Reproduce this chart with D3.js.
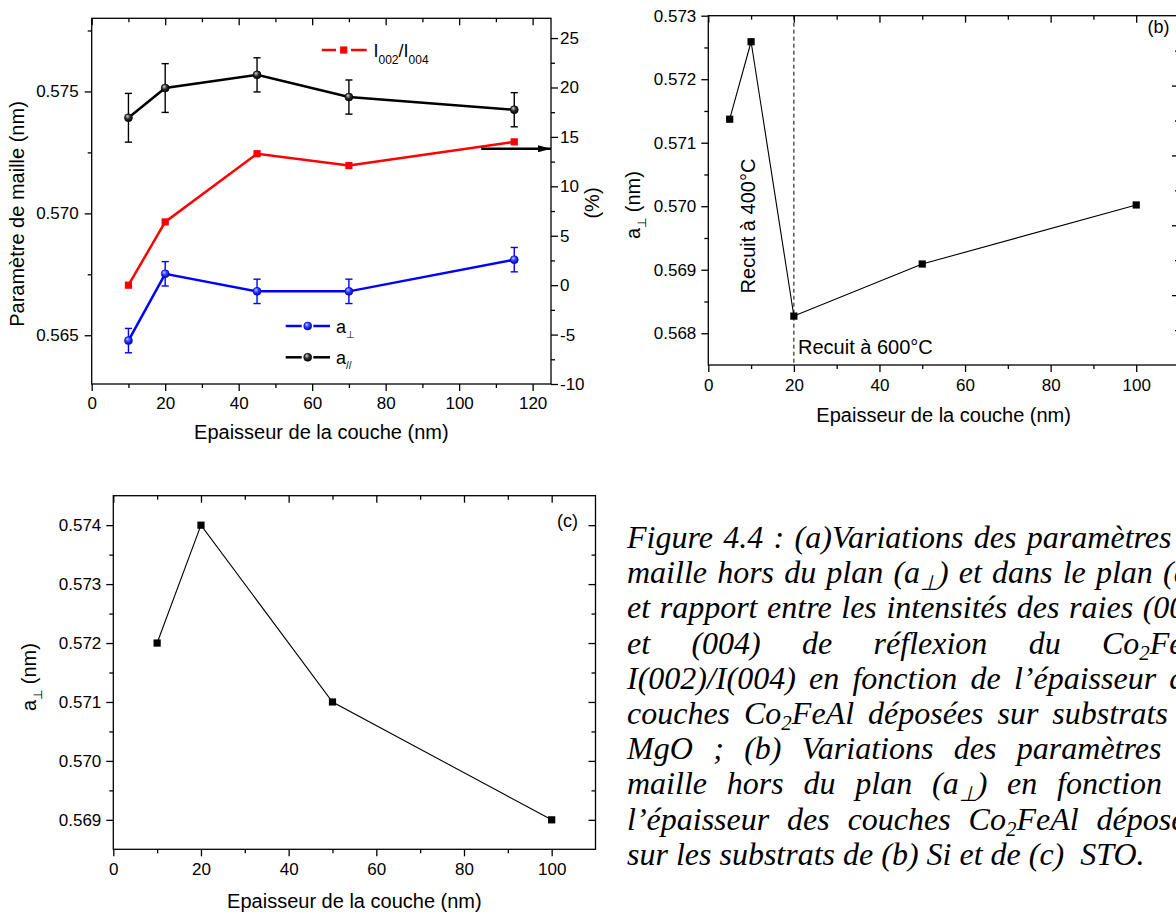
<!DOCTYPE html>
<html><head><meta charset="utf-8">
<script src="https://cdn.jsdelivr.net/npm/d3@7"></script>
<style>body{margin:0;background:#fff}svg{display:block}</style>
</head><body>
<svg id="c" width="1176" height="916"></svg>
<script>
// ---------- DATA ----------
const thicknessA = [10, 20, 45, 70, 115];
const aPerpA     = [0.56478, 0.56752, 0.5668, 0.5668, 0.5681];
const aPerpErrA  = [0.0005, 0.0005, 0.0005, 0.0005, 0.0005];
const aParA      = [0.57392, 0.57514, 0.57568, 0.57477, 0.57425];
const aParErrA   = [0.001, 0.001, 0.0007, 0.0007, 0.0007];
const ratioA     = [0, 6.4, 13.3, 12.1, 14.5];
const thicknessB = [5, 10, 20, 50, 100];
const aPerpB     = [0.57137, 0.57259, 0.56827, 0.56909, 0.57002];
const thicknessC = [10, 20, 50, 100];
const aPerpC     = [0.572, 0.574, 0.571, 0.569];

const xTicksA  = [0, 20, 40, 60, 80, 100, 120];
const xMinorA  = [10, 30, 50, 70, 90, 110];
const yTicksA  = [0.565, 0.570, 0.575];
const yMinorA  = [0.5675, 0.5725, 0.5775];
const yRTicksA = [-10, -5, 0, 5, 10, 15, 20, 25];
const yRMinorA = [-7.5, -2.5, 2.5, 7.5, 12.5, 17.5, 22.5];
const arrowA   = {x0: 106, x1: 125, y: 13.8};

const xTicksB  = [0, 20, 40, 60, 80, 100];
const xMinorB  = [10, 30, 50, 70, 90];
const yTicksB  = [0.568, 0.569, 0.570, 0.571, 0.572, 0.573];
const yMinorB  = [0.5685, 0.5695, 0.5705, 0.5715, 0.5725];
const rTicksB  = [1, 2, 3, 4];
const rMinorB  = [0.5, 1.5, 2.5, 3.5, 4.5];
const annealX  = 20;

const xTicksC  = [0, 20, 40, 60, 80, 100];
const xMinorC  = [10, 30, 50, 70, 90];
const yTicksC  = [0.569, 0.570, 0.571, 0.572, 0.573, 0.574];
const yMinorC  = [0.5695, 0.5705, 0.5715, 0.5725, 0.5735];

const captionLines = [
  "Figure 4.4 : (a)Variations des paramètres de",
  "maille hors du plan (a{⊥}) et dans le plan (a{//})",
  "et rapport entre les intensités des raies (002)",
  "et (004) de réflexion du Co{2}FeAl",
  "I(002)/I(004) en fonction de l’épaisseur des",
  "couches Co{2}FeAl déposées sur substrats de",
  "MgO ; (b) Variations des paramètres de",
  "maille hors du plan (a{⊥}) en fonction de",
  "l’épaisseur des couches Co{2}FeAl déposées",
  "sur les substrats de (b) Si et de (c)  STO."
];

// ---------- HELPERS ----------
const SANS = "Arial, 'Liberation Sans', sans-serif";
const SERIF = "'Times New Roman', 'Liberation Serif', serif";
const svg = d3.select("#c");
const defs = svg.append("defs");
function sphere(id, light, mid, dark) {
  const g = defs.append("radialGradient").attr("id", id)
    .attr("cx", "45%").attr("cy", "40%").attr("r", "60%").attr("fx", "35%").attr("fy", "30%");
  g.append("stop").attr("offset", "0%").attr("stop-color", light);
  g.append("stop").attr("offset", "50%").attr("stop-color", mid);
  g.append("stop").attr("offset", "100%").attr("stop-color", dark);
}
sphere("sphK", "#d8d8d8", "#303030", "#000");
sphere("sphB", "#c0c8ff", "#2a3cff", "#0000b8");
defs.append("marker").attr("id", "arrow").attr("viewBox", "0 0 10 10")
  .attr("refX", 10).attr("refY", 5).attr("markerWidth", 13).attr("markerHeight", 7)
  .attr("markerUnits", "userSpaceOnUse").attr("preserveAspectRatio", "none").attr("orient", "auto")
  .append("path").attr("d", "M0,0L10,5L0,10z").attr("fill", "#000");

function rich(t, str, subFs, shift) {
  let down = false;
  str.split(/(\{[^}]*\})/).filter(s => s.length).forEach(p => {
    if (p[0] === "{") { t.append("tspan").attr("font-size", subFs).attr("dy", shift).text(p.slice(1, -1)); down = true; }
    else { const ts = t.append("tspan").text(p); if (down) { ts.attr("dy", -shift); down = false; } }
  });
  return t;
}
function axis(g, fn, scale, vals, size, fmt, pad, tr) {
  const ax = fn(scale).tickValues(vals).tickSize(size).tickSizeOuter(0).tickPadding(pad || 5)
    .tickFormat(fmt || (() => ""));
  const s = g.append("g").attr("transform", tr).call(ax);
  s.select(".domain").remove();
  s.selectAll("line").attr("stroke", "#000").attr("stroke-width", 1.3);
  s.selectAll("text").attr("font-family", SANS).attr("font-size", 17).attr("fill", "#000");
  return s;
}
function frame(g, P) {
  g.append("rect").attr("x", P.l).attr("y", P.t).attr("width", P.r - P.l).attr("height", P.b - P.t)
    .attr("fill", "none").attr("stroke", "#000").attr("stroke-width", 1.3);
}
function label(g, x, y, str, fs, rot, anchor) {
  const t = g.append("text").attr("font-family", SANS).attr("font-size", fs).attr("fill", "#000")
    .attr("text-anchor", anchor || "middle")
    .attr("transform", `translate(${x},${y})` + (rot ? ` rotate(${rot})` : ""));
  return rich(t, str, Math.round(fs * 0.6), fs * 0.3);
}
const f3 = d3.format(".3f"), fd = d => String(d);

// ---------- PANEL A ----------
const A = {l: 91.7, r: 551, t: 18.3, b: 384};
const xA = d3.scaleLinear().domain([0, 125]).range([A.l, A.r]);
const yA = d3.scaleLinear().domain([0.563, 0.578]).range([A.b, A.t]);
const yRA = d3.scaleLinear().domain([-10, 27]).range([A.b, A.t]);
const gA = svg.append("g");
axis(gA, d3.axisBottom, xA, xTicksA, 7, fd, 6, `translate(0,${A.b})`);
axis(gA, d3.axisBottom, xA, xMinorA, 4, null, 6, `translate(0,${A.b})`);
axis(gA, d3.axisTop, xA, xTicksA, -7, null, 6, `translate(0,${A.t})`);
axis(gA, d3.axisTop, xA, xMinorA, -4, null, 6, `translate(0,${A.t})`);
axis(gA, d3.axisLeft, yA, yTicksA, 7, f3, 6, `translate(${A.l},0)`);
axis(gA, d3.axisLeft, yA, yMinorA, 4, null, 6, `translate(${A.l},0)`);
axis(gA, d3.axisRight, yRA, yRTicksA, 7, fd, 2, `translate(${A.r},0)`);
axis(gA, d3.axisRight, yRA, yRMinorA, 4, null, 2, `translate(${A.r},0)`);
frame(gA, A);

const lineA = (ys, sc) => d3.line().x((d, i) => xA(thicknessA[i])).y(d => sc(d))(ys);
gA.append("path").attr("d", lineA(ratioA, yRA)).attr("fill", "none").attr("stroke", "#ff0000").attr("stroke-width", 2.5);
gA.append("path").attr("d", lineA(aPerpA, yA)).attr("fill", "none").attr("stroke", "#0000ff").attr("stroke-width", 2.5);
gA.append("path").attr("d", lineA(aParA, yA)).attr("fill", "none").attr("stroke", "#000").attr("stroke-width", 2.5);

function errBars(vals, errs, color) {
  vals.forEach((v, i) => {
    const x = xA(thicknessA[i]), y1 = yA(v - errs[i]), y2 = yA(v + errs[i]);
    gA.append("line").attr("x1", x).attr("x2", x).attr("y1", y1).attr("y2", y2).attr("stroke", color).attr("stroke-width", 1.4);
    [y1, y2].forEach(y => gA.append("line").attr("x1", x - 3.6).attr("x2", x + 3.6).attr("y1", y).attr("y2", y).attr("stroke", color).attr("stroke-width", 1.4));
  });
}
errBars(aPerpA, aPerpErrA, "#0000ff");
errBars(aParA, aParErrA, "#000");
ratioA.forEach((v, i) => gA.append("rect").attr("x", xA(thicknessA[i]) - 3.6).attr("y", yRA(v) - 3.6)
  .attr("width", 7.2).attr("height", 7.2).attr("fill", "#ff0000"));
aPerpA.forEach((v, i) => gA.append("circle").attr("cx", xA(thicknessA[i])).attr("cy", yA(v)).attr("r", 4)
  .attr("fill", "url(#sphB)").attr("stroke", "#0000c0").attr("stroke-width", 0.6));
aParA.forEach((v, i) => gA.append("circle").attr("cx", xA(thicknessA[i])).attr("cy", yA(v)).attr("r", 4)
  .attr("fill", "url(#sphK)").attr("stroke", "#000").attr("stroke-width", 0.6));
gA.append("line").attr("x1", xA(arrowA.x0)).attr("x2", xA(arrowA.x1)).attr("y1", yRA(arrowA.y)).attr("y2", yRA(arrowA.y))
  .attr("stroke", "#000").attr("stroke-width", 2.3).attr("marker-end", "url(#arrow)");

// legend A
function legItem(y, color, sym) {
  const xs = sym === "sq" ? [321.7, 336, 351, 366.7, 343.7] : [285.7, 301.7, 313.3, 330, 307.7];
  gA.append("line").attr("x1", xs[0]).attr("x2", xs[1]).attr("y1", y).attr("y2", y).attr("stroke", color).attr("stroke-width", 2.5);
  gA.append("line").attr("x1", xs[2]).attr("x2", xs[3]).attr("y1", y).attr("y2", y).attr("stroke", color).attr("stroke-width", 2.5);
  if (sym === "sq") gA.append("rect").attr("x", xs[4] - 3.6).attr("y", y - 3.6).attr("width", 7.2).attr("height", 7.2).attr("fill", color);
  else gA.append("circle").attr("cx", xs[4]).attr("cy", y).attr("r", 4).attr("fill", sym).attr("stroke", color).attr("stroke-width", 0.6);
}
legItem(50, "#ff0000", "sq");
legItem(326, "#0000ff", "url(#sphB)");
legItem(357.3, "#000", "url(#sphK)");
rich(gA.append("text").attr("x", 373.5).attr("y", 57).attr("font-family", SANS).attr("font-size", 18), "I{002}/I{004}", 12, 7);
rich(gA.append("text").attr("x", 336).attr("y", 333).attr("font-family", SANS).attr("font-size", 18), "a{⊥}", 10, 5);
rich(gA.append("text").attr("x", 336).attr("y", 364).attr("font-family", SANS).attr("font-size", 18), "a{//}", 10, 5);
label(gA, 24, 214, "Paramètre de maille (nm)", 20, -90);
label(gA, 599, 203, "(%)", 20, -90);
label(gA, (A.l + A.r) / 2, 439, "Epaisseur de la couche (nm)", 20);

// ---------- PANEL B ----------
const B = {l: 708.3, r: 1179, t: 15.7, b: 365};
const xB = d3.scaleLinear().domain([0, 110]).range([B.l, B.r]);
const yB = d3.scaleLinear().domain([0.5675, 0.573]).range([B.b, B.t]);
const rB = d3.scaleLinear().domain([0, 5]).range([B.b, B.t]);
const gB = svg.append("g");
axis(gB, d3.axisBottom, xB, xTicksB, 7, fd, 7, `translate(0,${B.b})`);
axis(gB, d3.axisBottom, xB, xMinorB, 4, null, 7, `translate(0,${B.b})`);
axis(gB, d3.axisTop, xB, xTicksB, -7, null, 6, `translate(0,${B.t})`);
axis(gB, d3.axisTop, xB, xMinorB, -4, null, 6, `translate(0,${B.t})`);
axis(gB, d3.axisLeft, yB, yTicksB, 7, f3, 5, `translate(${B.l},0)`);
axis(gB, d3.axisLeft, yB, yMinorB, 4, null, 5, `translate(${B.l},0)`);
axis(gB, d3.axisRight, rB, rTicksB, -7, null, 5, `translate(${B.r},0)`);
axis(gB, d3.axisRight, rB, rMinorB, -4, null, 5, `translate(${B.r},0)`);
frame(gB, B);
gB.append("line").attr("x1", xB(annealX)).attr("x2", xB(annealX)).attr("y1", B.t).attr("y2", B.b)
  .attr("stroke", "#000").attr("stroke-width", 1).attr("stroke-dasharray", "4,3");
gB.append("path").attr("d", d3.line().x((d, i) => xB(thicknessB[i])).y(d => yB(d))(aPerpB))
  .attr("fill", "none").attr("stroke", "#000").attr("stroke-width", 1.1);
aPerpB.forEach((v, i) => gB.append("rect").attr("x", xB(thicknessB[i]) - 3.6).attr("y", yB(v) - 3.6)
  .attr("width", 7.2).attr("height", 7.2).attr("fill", "#000"));
label(gB, 755, 226, "Recuit à 400°C", 20, -90);
label(gB, 798, 354, "Recuit à 600°C", 20, 0, "start");
label(gB, 1147.5, 33, "(b)", 18, 0, "start");
label(gB, 640, 205, "a{⊥} (nm)", 20, -90);
label(gB, (B.l + B.r) / 2, 422, "Epaisseur de la couche (nm)", 20);

// ---------- PANEL C ----------
const C = {l: 113.3, r: 595.5, t: 495.7, b: 849.3};
const xC = d3.scaleLinear().domain([0, 110]).range([C.l, C.r]);
const yC = d3.scaleLinear().domain([0.5685, 0.5745]).range([C.b, C.t]);
const gC = svg.append("g");
axis(gC, d3.axisBottom, xC, xTicksC, 7, fd, 7, `translate(0,${C.b})`);
axis(gC, d3.axisBottom, xC, xMinorC, 4, null, 7, `translate(0,${C.b})`);
axis(gC, d3.axisTop, xC, xTicksC, -7, null, 6, `translate(0,${C.t})`);
axis(gC, d3.axisTop, xC, xMinorC, -4, null, 6, `translate(0,${C.t})`);
axis(gC, d3.axisLeft, yC, yTicksC, 7, f3, 5, `translate(${C.l},0)`);
axis(gC, d3.axisLeft, yC, yMinorC, 4, null, 5, `translate(${C.l},0)`);
axis(gC, d3.axisRight, yC, yTicksC, -7, null, 5, `translate(${C.r},0)`);
axis(gC, d3.axisRight, yC, yMinorC, -4, null, 5, `translate(${C.r},0)`);
frame(gC, C);
gC.append("path").attr("d", d3.line().x((d, i) => xC(thicknessC[i])).y(d => yC(d))(aPerpC))
  .attr("fill", "none").attr("stroke", "#000").attr("stroke-width", 1.1);
aPerpC.forEach((v, i) => gC.append("rect").attr("x", xC(thicknessC[i]) - 3.6).attr("y", yC(v) - 3.6)
  .attr("width", 7.2).attr("height", 7.2).attr("fill", "#000"));
label(gC, 557, 527, "(c)", 18, 0, "start");
label(gC, 36, 677, "a{⊥} (nm)", 20, -90);
label(gC, (C.l + C.r) / 2, 907.5, "Epaisseur de la couche (nm)", 20);

// ---------- CAPTION ----------
const CF = 32, CX = 627, CW = 585, CY0 = 548, CDY = 35.2;
const gT = svg.append("g").attr("font-family", SERIF).attr("font-style", "italic").attr("font-size", CF).attr("fill", "#000");
captionLines.forEach((line, li) => {
  const words = line.split(" ");
  const y = CY0 + li * CDY;
  const nodes = words.map(w => rich(gT.append("text").attr("y", y), w, Math.round(CF * 0.65), CF * 0.2));
  const widths = nodes.map(n => n.node().getComputedTextLength());
  const total = d3.sum(widths);
  const last = li === captionLines.length - 1;
  const gap = last ? CF * 0.25 : (CW - total) / (words.length - 1);
  let x = CX;
  nodes.forEach((n, i) => { n.attr("x", x); x += widths[i] + gap; });
});
</script>
</body></html>
